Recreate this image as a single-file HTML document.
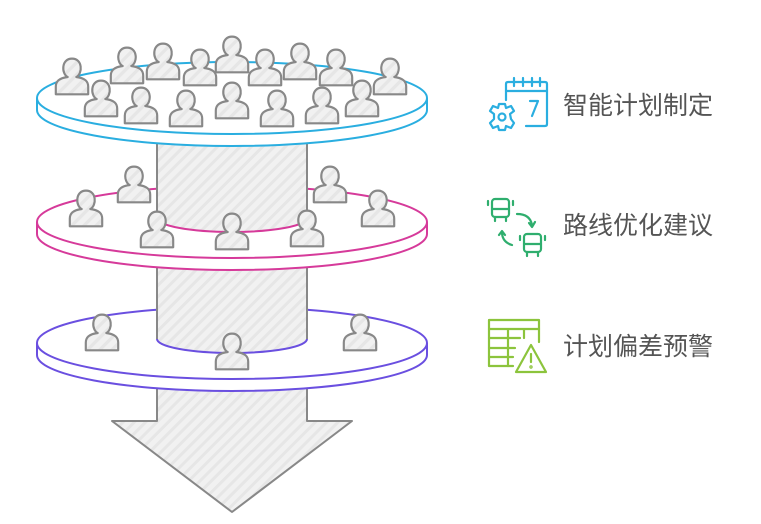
<!DOCTYPE html>
<html><head><meta charset="utf-8"><style>
html,body{margin:0;padding:0;background:#fff;}
body{width:761px;height:519px;overflow:hidden;}
text{font-family:"Liberation Sans","Noto Sans CJK SC",sans-serif;}
</style></head><body>
<svg width="761" height="519" viewBox="0 0 761 519" xmlns="http://www.w3.org/2000/svg">
<defs>
<pattern id="h" width="8" height="8" patternUnits="userSpaceOnUse" patternTransform="rotate(45)">
<rect width="8" height="8" fill="#f1f1f1"/><rect width="3" height="8" fill="#e6e6e6"/>
</pattern>
<g id="p"><path transform="scale(1.08)" d="M-4,0 C-10,-3 -10,-17 0,-17 C10,-17 10,-3 4,0 C12,1 15,4 15,9 L15,16 L-15,16 L-15,9 C-15,4 -12,1 -4,0 Z" fill="url(#h)" stroke="#888" stroke-width="2" stroke-linejoin="round"/></g>
</defs>
<path d="M157,340 L157,421 L112,421 L232,512 L352,421 L307,421 L307,340 Z" fill="url(#h)" stroke="#888" stroke-width="2" stroke-linejoin="round"/>
<path d="M37,343 L37,355 A195,36 0 0 0 427,355 L427,343" fill="#fff" stroke="#6a4fe0" stroke-width="2"/>
<ellipse cx="232" cy="343" rx="195" ry="36" fill="#fff" stroke="#6a4fe0" stroke-width="2"/>
<path d="M157,250 L157,339 A75,14 0 0 0 307,339 L307,250 Z" fill="url(#h)"/>
<path d="M157,250 L157,339 M307,339 L307,250" stroke="#888" stroke-width="2" fill="none"/>
<path d="M157,339 A75,14 0 0 0 307,339" stroke="#6a4fe0" stroke-width="2" fill="none"/>
<path d="M37,222 L37,234 A195,36 0 0 0 427,234 L427,222" fill="#fff" stroke="#d63a9a" stroke-width="2"/>
<ellipse cx="232" cy="222" rx="195" ry="36" fill="#fff" stroke="#d63a9a" stroke-width="2"/>
<path d="M157,120 L157,218 A75,14 0 0 0 307,218 L307,120 Z" fill="url(#h)"/>
<path d="M157,120 L157,218 M307,218 L307,120" stroke="#888" stroke-width="2" fill="none"/>
<path d="M157,218 A75,14 0 0 0 307,218" stroke="#d63a9a" stroke-width="2" fill="none"/>
<path d="M37,98 L37,110 A195,36 0 0 0 427,110 L427,98" fill="#fff" stroke="#2aaee0" stroke-width="2"/>
<ellipse cx="232" cy="98" rx="195" ry="36" fill="#fff" stroke="#2aaee0" stroke-width="2"/>
<use href="#p" x="72" y="77"/><use href="#p" x="127" y="66"/><use href="#p" x="163" y="62"/><use href="#p" x="200" y="68"/><use href="#p" x="232" y="55"/><use href="#p" x="265" y="68"/><use href="#p" x="300" y="62"/><use href="#p" x="336" y="68"/><use href="#p" x="390" y="77"/>
<use href="#p" x="101" y="99"/><use href="#p" x="141" y="106"/><use href="#p" x="186" y="109"/><use href="#p" x="232" y="101"/><use href="#p" x="277" y="109"/><use href="#p" x="322" y="106"/><use href="#p" x="362" y="99"/>
<use href="#p" x="134" y="185"/><use href="#p" x="86" y="209"/><use href="#p" x="157" y="230"/><use href="#p" x="232" y="232"/><use href="#p" x="307" y="229"/><use href="#p" x="330" y="185"/><use href="#p" x="378" y="209"/>
<use href="#p" x="102" y="333"/><use href="#p" x="232" y="352"/><use href="#p" x="360" y="333"/>
<g fill="none" stroke="#2aaee0" stroke-width="2.2" stroke-linecap="round" stroke-linejoin="round">
<path d="M506,100 L506,84 Q506,82 508,82 L545,82 Q547,82 547,84 L547,124 Q547,126 545,126 L526,126"/>
<path d="M506,91 L547,91 M514,78 L514,86 M523,78 L523,86 M532,78 L532,86 M540,78 L540,86"/>
<path d="M530,101 L538,101 L532,116"/>
<circle cx="502" cy="117" r="3.5"/>
<path d="M499,104 L505,104 L506,108 L511,106 L514,111 L510,114 L511,119 L514,123 L511,128 L506,126 L505,130 L499,130 L498,126 L493,128 L490,123 L494,119 L494,114 L490,111 L493,106 L498,108 Z"/>
</g>
<g fill="none" stroke="#2fae6e" stroke-width="2.2" stroke-linecap="round" stroke-linejoin="round">
<rect x="492" y="199" width="17" height="18" rx="3"/><path d="M492,209 L509,209 M495,217 L495,221 M506,217 L506,221 M488,201 L488,205 M513,201 L513,205"/>
<rect x="524" y="234" width="17" height="18" rx="3"/><path d="M524,244 L541,244 M527,252 L527,256 M538,252 L538,256 M520,236 L520,240 M545,236 L545,240"/>
<path d="M517,214 Q530,214 532,225 M529,223 L532,227 L535,222"/>
<path d="M512,245 Q502,242 502,232 M499,235 L502,231 L505,235"/>
</g>
<g fill="none" stroke="#8cc43c" stroke-width="2.2" stroke-linecap="round" stroke-linejoin="round">
<path d="M513,366 L489,366 L489,320 L539,320 L539,342"/>
<path d="M489,329 L539,329 M489,338 L520,338 M489,348 L515,348 M489,357 L513,357 M508,329 L508,366 M524,329 L524,338"/>
<path d="M531,345 L546,372 L516,372 Z"/>
<path d="M531,354 L531,362"/><circle cx="531" cy="367" r="0.6"/>
</g>
<text x="563" y="114" font-size="25" fill="#555">智能计划制定</text>
<text x="563" y="234" font-size="25" fill="#555">路线优化建议</text>
<text x="563" y="355" font-size="25" fill="#555">计划偏差预警</text>
</svg>
</body></html>
